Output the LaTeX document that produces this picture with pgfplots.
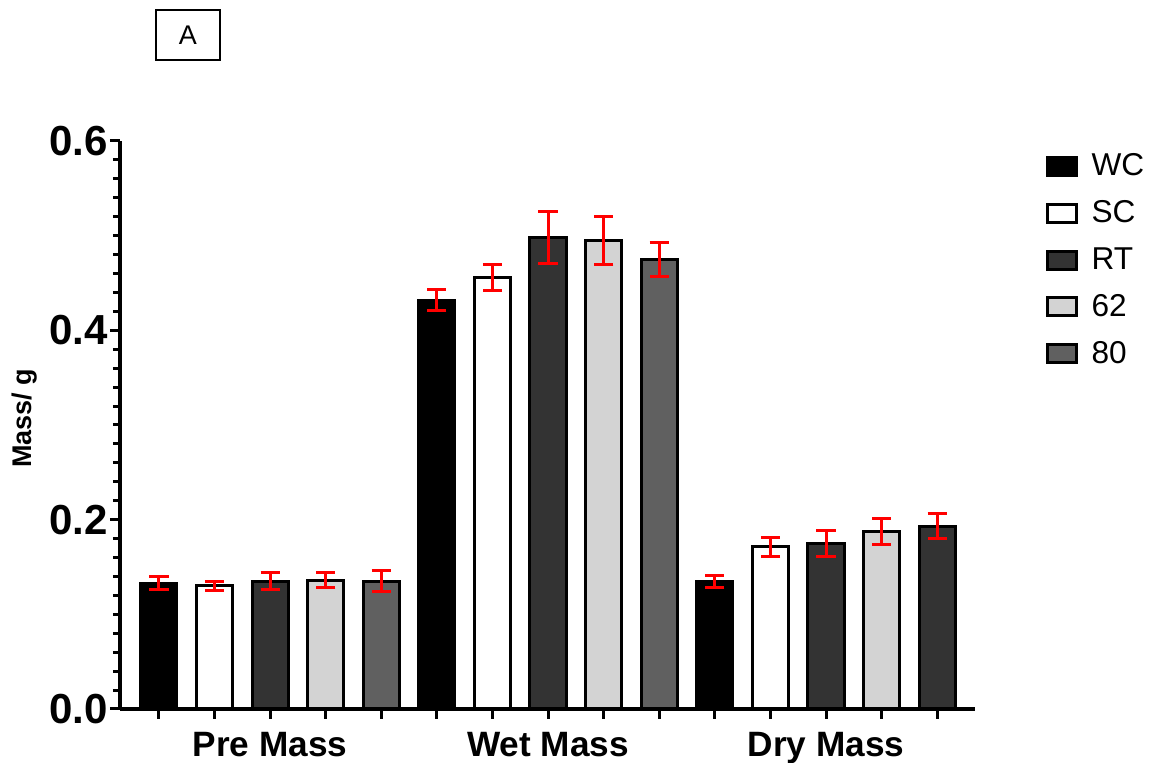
\documentclass[border=0pt]{standalone}
\usepackage{pgfplots}
\pgfplotsset{compat=1.18}
\usepackage{pgfplotstable}
\usepackage{fontspec}
\setmainfont{Liberation Sans}
\definecolor{cRT}{HTML}{333333}
\definecolor{c62}{HTML}{D3D3D3}
\definecolor{c80}{HTML}{606060}
\pgfplotstableread{
x y e
0 0.133 0.007
5 0.432 0.011
10 0.1345 0.006
}\tWC
\pgfplotstableread{
x y e
1 0.130 0.0045
6 0.456 0.014
11 0.1715 0.010
}\tSC
\pgfplotstableread{
x y e
2 0.135 0.009
7 0.498 0.027
12 0.175 0.014
}\tRT
\pgfplotstableread{
x y e
3 0.136 0.008
8 0.495 0.025
13 0.1877 0.014
}\tSixtyTwo
\pgfplotstableread{
x y e
4 0.135 0.011
9 0.475 0.018
}\tEighty
\pgfplotstableread{
x y e
14 0.193 0.013
}\tEightyDry
\begin{document}
\begin{tikzpicture}
\useasboundingbox (-60pt,-27pt) rectangle (517pt,354.5pt);
\begin{axis}[
  at={(0,0)}, anchor=south west,
  scale only axis, width=427.5pt, height=284pt,
  xmin=-0.7, xmax=14.68, ymin=0, ymax=0.6,
  ybar, bar width=0.65,
  axis x line*=bottom, axis y line*=left,
  axis line style={line width=2pt},
  tick align=outside,
  xtick={0,...,14}, xticklabels={},
  major tick length=5pt, minor tick length=3.5pt,
  every tick/.style={black, line width=1.5pt},
  extra x ticks={2,7,12},
  extra x tick labels={Pre Mass,Wet Mass,Dry Mass},
  extra x tick style={major tick length=0pt, tick label style={font=\fontsize{17.6}{20}\selectfont\bfseries, yshift=-8pt}},
  ytick={0,0.2,0.4,0.6}, minor y tick num=9,
  yticklabel style={font=\fontsize{21}{24}\selectfont\bfseries, xshift=2.5pt, /pgf/number format/.cd, fixed, fixed zerofill, precision=1, assume math mode=true},
  ylabel={Mass/ g},
  ylabel style={font=\fontsize{13.5}{15}\selectfont\bfseries, at={(axis description cs:-0.112,0.512)}, anchor=center},
  clip=false,
  legend style={draw=none, at={(1.082,0.985)}, anchor=north west, inner sep=0pt, row sep=6.9pt, font=\fontsize{15.8}{18}\selectfont, column sep=5pt},
  legend cell align=left,
  legend image code/.code={\draw[#1, line width=1.5pt] (0pt,-4.5pt) rectangle (14.5pt,4.5pt);},
  error bars/y dir=both, error bars/y explicit,
  error bars/error bar style={red, line width=1.5pt},
  error bars/error mark options={red, rotate=90, mark size=4.8pt, line width=1.5pt},
]
\addplot[bar shift=0pt, draw=black, line width=1.5pt, fill=black] table[x=x, y=y, y error=e] {\tWC};
\addlegendentry{WC}
\addplot[bar shift=0pt, draw=black, line width=1.5pt, fill=white] table[x=x, y=y, y error=e] {\tSC};
\addlegendentry{SC}
\addplot[bar shift=0pt, draw=black, line width=1.5pt, fill=cRT] table[x=x, y=y, y error=e] {\tRT};
\addlegendentry{RT}
\addplot[bar shift=0pt, draw=black, line width=1.5pt, fill=c62] table[x=x, y=y, y error=e] {\tSixtyTwo};
\addlegendentry{62}
\addplot[bar shift=0pt, draw=black, line width=1.5pt, fill=c80] table[x=x, y=y, y error=e] {\tEighty};
\addlegendentry{80}
\addplot[bar shift=0pt, draw=black, line width=1.5pt, fill=cRT, forget plot] table[x=x, y=y, y error=e] {\tEightyDry};
\node[draw, line width=1pt, minimum width=32pt, minimum height=25pt, font=\fontsize{13.5}{16}\selectfont] at (rel axis cs:0.0795,1.1866) {A};
\end{axis}
\end{tikzpicture}
\end{document}
